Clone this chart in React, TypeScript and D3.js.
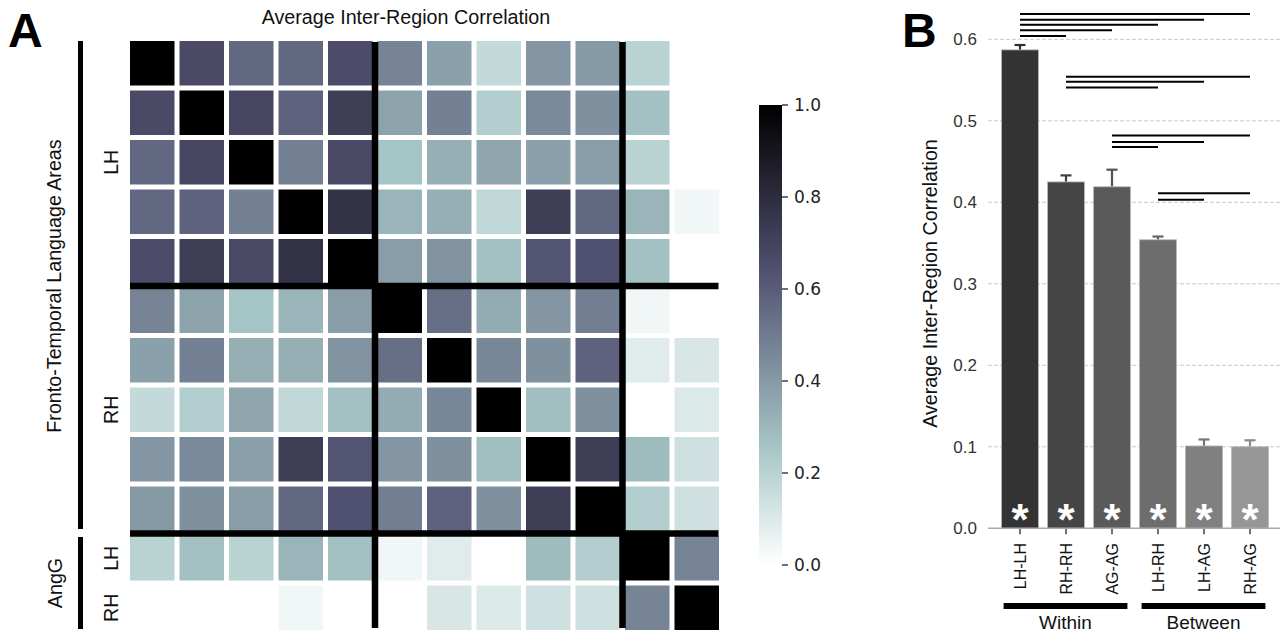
import React from "react";
import * as d3 from "d3";

// ---------- Panel A data: 12x12 inter-region correlation matrix ----------
// order: LH fronto-temporal (5), RH fronto-temporal (5), AngG LH, AngG RH
const rowLH1 = [1.0, 0.67, 0.56, 0.56, 0.66, 0.47, 0.38, 0.17, 0.41, 0.4, 0.2, 0.0];
const rowLH2 = [0.67, 1.0, 0.68, 0.58, 0.72, 0.37, 0.48, 0.22, 0.45, 0.43, 0.27, 0.0];
const rowLH3 = [0.56, 0.68, 1.0, 0.48, 0.67, 0.26, 0.33, 0.36, 0.38, 0.39, 0.2, 0.0];
const rowLH4 = [0.56, 0.58, 0.48, 1.0, 0.77, 0.31, 0.33, 0.18, 0.72, 0.56, 0.31, 0.04];
const rowLH5 = [0.66, 0.72, 0.67, 0.77, 1.0, 0.39, 0.42, 0.27, 0.63, 0.64, 0.27, 0.0];
const rowRH1 = [0.47, 0.37, 0.26, 0.31, 0.39, 1.0, 0.54, 0.34, 0.41, 0.49, 0.04, 0.0];
const rowRH2 = [0.38, 0.48, 0.33, 0.33, 0.42, 0.54, 1.0, 0.46, 0.43, 0.58, 0.09, 0.11];
const rowRH3 = [0.17, 0.22, 0.36, 0.18, 0.27, 0.34, 0.46, 1.0, 0.28, 0.43, 0.0, 0.1];
const rowRH4 = [0.41, 0.45, 0.38, 0.72, 0.63, 0.41, 0.43, 0.28, 1.0, 0.72, 0.29, 0.14];
const rowRH5 = [0.4, 0.43, 0.39, 0.56, 0.64, 0.49, 0.58, 0.43, 0.72, 1.0, 0.22, 0.14];
const rowAngLH = [0.2, 0.27, 0.2, 0.31, 0.27, 0.04, 0.09, 0.0, 0.29, 0.22, 1.0, 0.47];
const rowAngRH = [0.0, 0.0, 0.0, 0.04, 0.0, 0.0, 0.11, 0.1, 0.14, 0.14, 0.47, 1.0];
const matrixRows = [rowLH1, rowLH2, rowLH3, rowLH4, rowLH5, rowRH1, rowRH2, rowRH3, rowRH4, rowRH5, rowAngLH, rowAngRH];

const blockBreaks = [5, 10];
const colorbarTicks = [0, 0.2, 0.4, 0.6, 0.8, 1.0];

// ---------- Panel B data ----------
const categories = ["LH-LH", "RH-RH", "AG-AG", "LH-RH", "LH-AG", "RH-AG"];
const means = [0.587, 0.425, 0.419, 0.354, 0.101, 0.1];
const sems = [0.006, 0.008, 0.021, 0.004, 0.008, 0.008];
const barColors = ["#333333", "#454545", "#5a5a5a", "#6d6d6d", "#808080", "#969696"];
const yTicksB = [0, 0.1, 0.2, 0.3, 0.4, 0.5, 0.6];
const compFrom = [0, 0, 0, 0, 0, 1, 1, 1, 2, 2, 2, 3, 3];
const compTo = [5, 4, 3, 2, 1, 5, 4, 3, 5, 4, 3, 5, 4];
const compLevel = [0.631, 0.624, 0.618, 0.611, 0.604, 0.554, 0.548, 0.541, 0.482, 0.474, 0.468, 0.411, 0.403];
const groupNames = ["Within", "Between"];
const groupStart = [0, 3];
const groupEnd = [2, 5];

// matplotlib "bone" colormap segments
const boneR = d3.scaleLinear().domain([0, 0.746032, 1]).range([0, 0.652778, 1]).clamp(true);
const boneG = d3.scaleLinear().domain([0, 0.365079, 0.746032, 1]).range([0, 0.319444, 0.777778, 1]).clamp(true);
const boneB = d3.scaleLinear().domain([0, 0.365079, 1]).range([0, 0.444444, 1]).clamp(true);
const boneRev = (v: number) => {
  const t = 1 - Math.max(0, Math.min(1, v));
  return d3.rgb(boneR(t) * 255, boneG(t) * 255, boneB(t) * 255).formatHex();
};

const SANS = "'Liberation Sans', Arial, sans-serif";
const DEJAVU = "'DejaVu Sans', sans-serif";
const LABEL_FS = 19.7;

export default function App() {
  const n = matrixRows.length;
  const x = d3.scaleBand<number>().domain(d3.range(n)).range([127.5, 721.5]);
  const y = d3.scaleBand<number>().domain(d3.range(n)).range([38.5, 632.5]);
  const bw = x.bandwidth();
  const gap = 5;

  const cbY = d3.scaleLinear().domain([0, 1]).range([565, 105]);
  const gradStops = d3.range(0, 1.0001, 0.02);

  // Panel B scales
  const bx = d3.scaleBand<string>().domain(categories).range([997, 1273]).paddingInner(0.2).paddingOuter(0.1);
  const by = d3.scaleLinear().domain([0, 0.6]).range([528.3, 39.3]);
  const bbw = bx.bandwidth();
  const cx = (i: number) => (bx(categories[i]) as number) + bbw / 2;

  return (
    <svg width={1280} height={633} style={{ position: "absolute", left: 0, top: 0, background: "#fff" }}>
      <defs>
        <linearGradient id="cbgrad" x1="0" y1="1" x2="0" y2="0">
          {gradStops.map((s) => (
            <stop key={s} offset={`${s * 100}%`} stopColor={boneRev(s)} />
          ))}
        </linearGradient>
      </defs>

      {/* Panel letters */}
      <text x={8} y={47} fontFamily={SANS} fontWeight="bold" fontSize={48} fill="#000">A</text>
      <text x={902} y={47} fontFamily={SANS} fontWeight="bold" fontSize={48} fill="#000">B</text>

      {/* Panel A title */}
      <text x={406} y={24} textAnchor="middle" fontFamily={SANS} fontSize={LABEL_FS} fill="#111">
        Average Inter-Region Correlation
      </text>

      {/* Heatmap cells */}
      {matrixRows.map((row, r) =>
        row.map((v, c) => (
          <rect
            key={`${r}-${c}`}
            x={x(c)! + gap / 2}
            y={y(r)! + gap / 2}
            width={bw - gap}
            height={bw - gap}
            fill={boneRev(v)}
          />
        ))
      )}

      {/* Block separators */}
      {blockBreaks.map((b) => (
        <line key={`v${b}`} x1={x(b)!} x2={x(b)!} y1={y(0)! + 3.5} y2={y(n - 1)! + bw - 4.5} stroke="#000" strokeWidth={6.5} />
      ))}
      {blockBreaks.map((b) => (
        <line key={`h${b}`} y1={y(b)!} y2={y(b)!} x1={x(0)! + 2.5} x2={x(n - 1)! + bw - 3} stroke="#000" strokeWidth={6.5} />
      ))}

      {/* Left brackets */}
      <rect x={78} y={y(0)! + 2.5} width={5} height={y(10)! - 4.5 - (y(0)! + 2.5)} fill="#000" />
      <rect x={78} y={y(10)! + 3.5} width={5} height={y(n - 1)! + bw - 3.5 - (y(10)! + 3.5)} fill="#000" />

      <text transform={`translate(61,${(y(0)! + y(10)!) / 2}) rotate(-90)`} textAnchor="middle" fontFamily={SANS} fontSize={LABEL_FS} fill="#111">
        Fronto-Temporal Language Areas
      </text>
      <text transform={`translate(62,${(y(10)! + y(n - 1)! + bw) / 2}) rotate(-90)`} textAnchor="middle" fontFamily={SANS} fontSize={LABEL_FS} fill="#111">
        AngG
      </text>
      <text transform={`translate(117.5,${(y(0)! + y(5)!) / 2}) rotate(-90)`} textAnchor="middle" fontFamily={SANS} fontSize={LABEL_FS} fill="#111">LH</text>
      <text transform={`translate(117.5,${(y(5)! + y(10)!) / 2}) rotate(-90)`} textAnchor="middle" fontFamily={SANS} fontSize={LABEL_FS} fill="#111">RH</text>
      <text transform={`translate(117.5,${y(10)! + bw / 2}) rotate(-90)`} textAnchor="middle" fontFamily={SANS} fontSize={LABEL_FS} fill="#111">LH</text>
      <text transform={`translate(117.5,${y(11)! + bw / 2}) rotate(-90)`} textAnchor="middle" fontFamily={SANS} fontSize={LABEL_FS} fill="#111">RH</text>

      {/* Colorbar */}
      <rect x={759} y={cbY(1)} width={23} height={cbY(0) - cbY(1)} fill="url(#cbgrad)" />
      {colorbarTicks.map((t) => (
        <g key={t}>
          <line x1={782} x2={788} y1={cbY(t)} y2={cbY(t)} stroke="#222" strokeWidth={1.3} />
          <text x={794} y={cbY(t)} dy="0.36em" fontFamily={DEJAVU} fontSize={17} fill="#222">
            {d3.format(".1f")(t)}
          </text>
        </g>
      ))}

      {/* Panel B gridlines */}
      {yTicksB.filter((t) => t > 0).map((t) => (
        <line key={t} x1={988} x2={1280} y1={by(t)} y2={by(t)} stroke="#c8c8c8" strokeWidth={1} strokeDasharray="4,2" />
      ))}
      {yTicksB.map((t) => (
        <text key={t} x={977} y={by(t)} dy="0.35em" textAnchor="end" fontFamily={SANS} fontSize={17} fill="#333">
          {d3.format(".1f")(t)}
        </text>
      ))}

      {/* Bars */}
      {categories.map((c, i) => (
        <g key={c}>
          <line x1={cx(i)} x2={cx(i)} y1={by(means[i])} y2={by(means[i] + sems[i])} stroke={d3.color(barColors[i])!.darker(0.25).formatHex()} strokeWidth={2.2} />
          <line x1={cx(i) - 5.5} x2={cx(i) + 5.5} y1={by(means[i] + sems[i])} y2={by(means[i] + sems[i])} stroke={d3.color(barColors[i])!.darker(0.25).formatHex()} strokeWidth={2.2} />
          <rect x={bx(c)!} y={by(means[i])} width={bbw} height={by(0) - by(means[i])} fill={barColors[i]} stroke="#b5b5b5" strokeWidth={0.8} />
          <text x={cx(i)} y={535} textAnchor="middle" fontFamily={SANS} fontWeight="bold" fontSize={44} fill="#fff">*</text>
          <line x1={cx(i)} x2={cx(i)} y1={by(0)} y2={by(0) + 6} stroke="#444" strokeWidth={1.5} />
          <text transform={`translate(${cx(i) + 6},543) rotate(-90)`} textAnchor="end" fontFamily={SANS} fontSize={16} fill="#111">
            {c}
          </text>
        </g>
      ))}
      <line x1={988} x2={1280} y1={by(0)} y2={by(0)} stroke="#aaa" strokeWidth={1.5} />

      {/* Y axis label */}
      <text transform={`translate(937,${(140 + 427) / 2}) rotate(-90)`} textAnchor="middle" fontFamily={SANS} fontSize={LABEL_FS} fill="#111">
        Average Inter-Region Correlation
      </text>

      {/* Significance lines */}
      {compFrom.map((f, k) => (
        <line key={k} x1={cx(f)} x2={cx(compTo[k])} y1={by(compLevel[k])} y2={by(compLevel[k])} stroke="#000" strokeWidth={2} />
      ))}

      {/* Group brackets */}
      {groupNames.map((g, k) => {
        const x0 = bx(categories[groupStart[k]])! + 2;
        const x1 = bx(categories[groupEnd[k]])! + bbw - 3;
        return (
          <g key={g}>
            <rect x={x0} y={603} width={x1 - x0} height={6} fill="#000" />
            <text x={(x0 + x1) / 2} y={629} textAnchor="middle" fontFamily={SANS} fontSize={19} fill="#111">{g}</text>
          </g>
        );
      })}
    </svg>
  );
}
